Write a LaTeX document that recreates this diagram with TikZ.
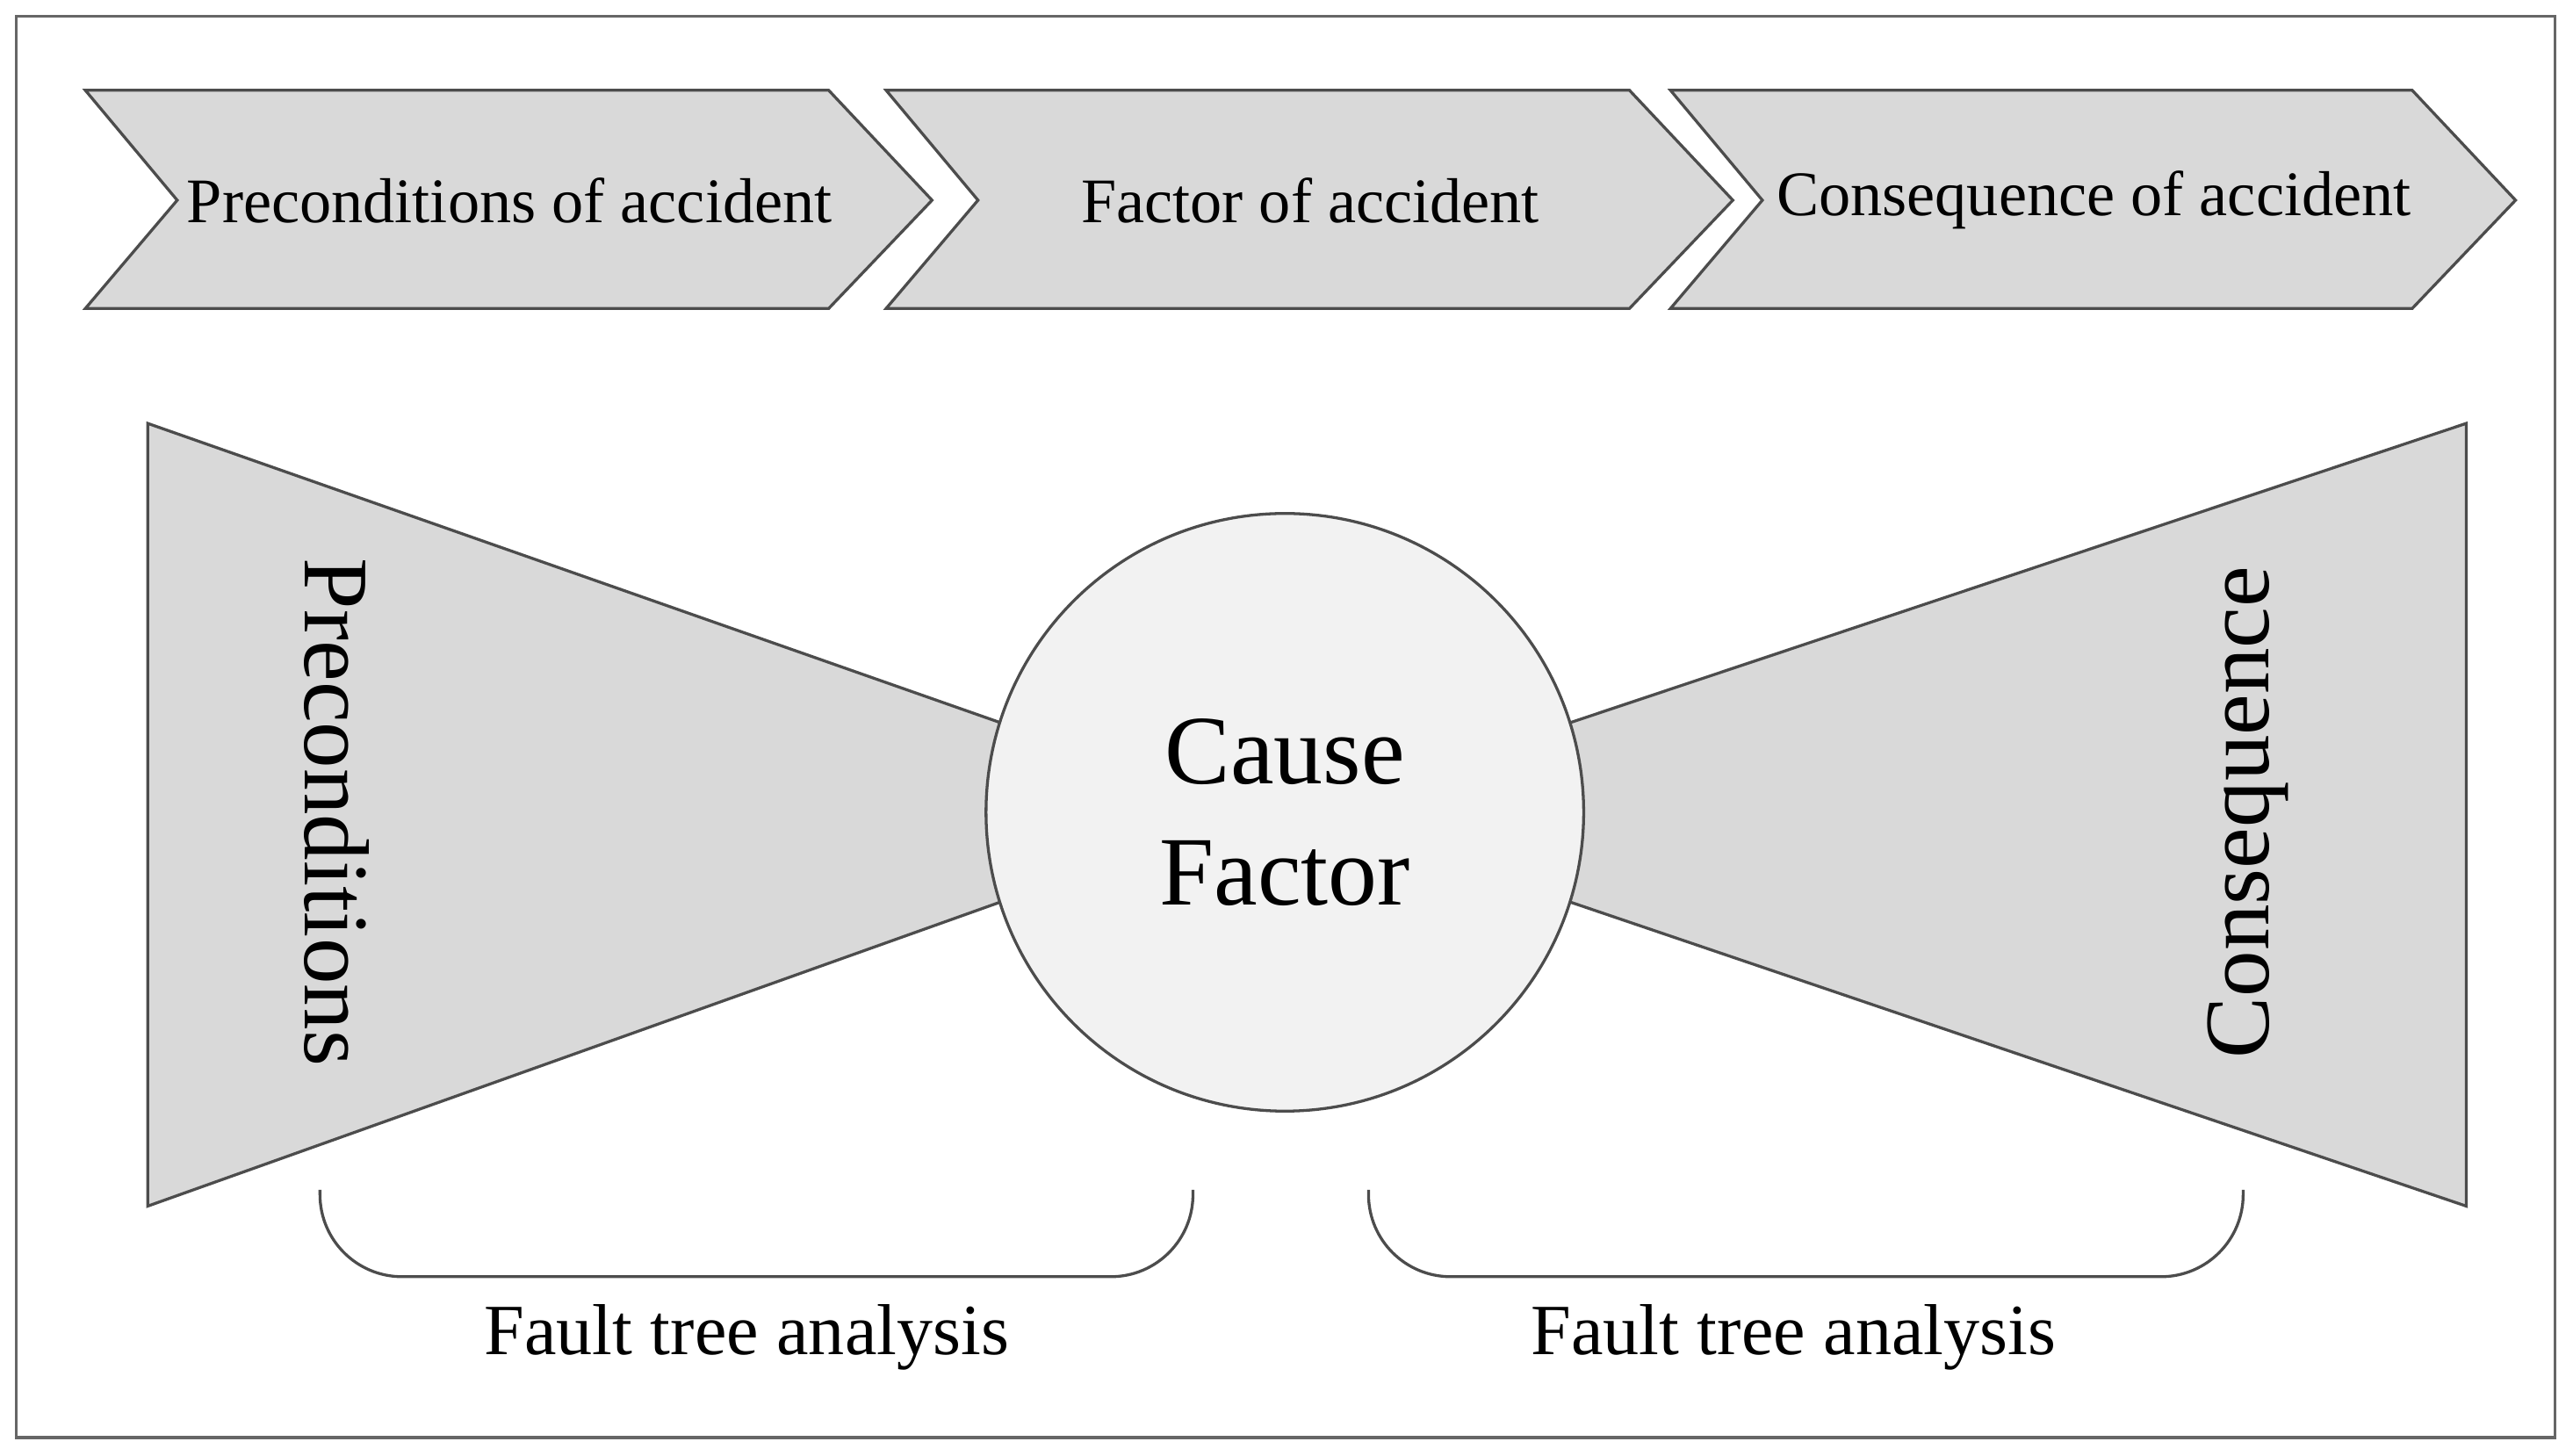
\documentclass[tikz,border=0pt]{standalone}
\usepackage{fontspec}
\setmainfont{Liberation Serif}
\begin{document}
\begin{tikzpicture}[x=0.01cm,y=-0.01cm,
	box/.style={fill=black!15,draw=black!70,line width=0.5pt},
	brace/.style={draw=black!70,line width=0.5pt,rounded corners=0.5cm}]
	\useasboundingbox (0,0) rectangle (1568,887);
	\draw[black!60,line width=0.5pt] (10,10) rectangle (1557,876);

	% chevrons
	\foreach \x/\w/\t/\n in {52/453/Preconditions of accident/pre,540/453/Factor of accident/fac,1018/452/Consequence of accident/con}{
		\draw[box] (\x,55) -- ++(\w,0) -- ++(63,67) -- ++(-63,66) -- ++(-\w,0) -- ++(56,-66) -- cycle;
		\node[font=\fontsize{11}{13}\selectfont] (\n) at ({\x+\w/2+32},122) {\t};
	}

	% bow tie
	\draw[box] (90,258) -- (620,444) -- (620,546) -- (90,735) -- cycle;
	\draw[box] (1503,258) -- (946,444) -- (946,546) -- (1503,735) -- cycle;
	\node[circle,minimum size=3.64cm,fill=black!5,draw=black!70,line width=0.5pt,align=center,
		font=\fontsize{17}{21}\selectfont] (cause) at (783,495) {Cause\\Factor};
	\node[rotate=-90,font=\fontsize{16}{19}\selectfont] (prec) at (205,495) {Preconditions};
	\node[rotate=90,font=\fontsize{16}{19}\selectfont] (cons) at (1370,495) {Consequence};

	% braces
	\draw[brace] (195,725) -- (195,778) -- (727,778) -- (727,725);
	\draw[brace] (834,725) -- (834,778) -- (1367,778) -- (1367,725);
	\node[font=\fontsize{12.5}{15}\selectfont] (fta1) at (455,815) {Fault tree analysis};
	\node[font=\fontsize{12.5}{15}\selectfont] (fta2) at (1093,815) {Fault tree analysis};
\end{tikzpicture}
\end{document}
